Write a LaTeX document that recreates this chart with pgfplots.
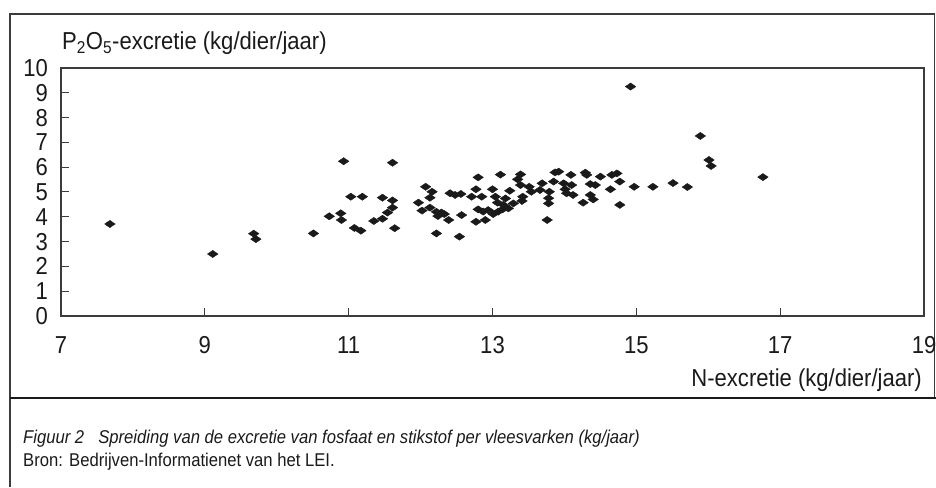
\documentclass[border=0pt]{standalone}
\usepackage{fontspec}
\setmainfont{Liberation Sans}[FakeStretch=0.9]
\usepackage{pgfplots}
\pgfplotsset{compat=1.18}
\definecolor{ink}{HTML}{1A1A1A}
\begin{document}
\begin{tikzpicture}[x=1pt,y=1pt]
\useasboundingbox (0,0) rectangle (936,487);
\draw[line width=1.3pt, color=ink!85] (10,0) -- (10,473) -- (934.5,473) -- (934.5,89);
\draw[line width=2.4pt, color=ink] (10,89) -- (936,89);
\begin{axis}[
  at={(61pt,171pt)}, anchor=south west,
  width=863pt, height=248pt, scale only axis,
  xmin=7, xmax=19, ymin=0, ymax=10,
  xtick={7,9,...,19}, ytick={0,1,...,10},
  xtick pos=bottom, ytick pos=left,
  tick align=inside, major tick length=8pt,
  axis line style={line width=1.1pt, color=ink!85},
  tick style={line width=1pt, color=ink!85},
  /pgf/number format/assume math mode=true,
  ticklabel style={font=\fontsize{24.5}{26}\selectfont, text=ink},
  yticklabel style={anchor=east, inner sep=0pt, xshift=-13pt},
  xticklabel style={anchor=north, inner sep=0pt, yshift=-20pt},
  clip=false,
]
\addplot[only marks, mark=diamond*, mark size=3.6pt, color=ink,
  mark options={xscale=1.95, fill=ink, draw=ink}] table {
x y
7.68 3.71
9.11 2.50
9.68 3.32
9.71 3.10
10.51 3.33
14.92 9.25
15.89 7.26
16.01 6.29
16.04 6.05
16.76 5.60
15.51 5.36
15.71 5.20
15.23 5.21
14.97 5.21
10.93 6.24
11.61 6.18
11.03 4.81
11.19 4.81
11.47 4.77
11.61 4.66
11.61 4.37
11.54 4.17
11.47 3.92
11.35 3.83
10.73 4.02
10.89 4.14
10.90 3.87
11.08 3.55
11.17 3.44
11.64 3.54
12.07 5.21
12.16 5.01
12.13 4.77
11.97 4.57
12.13 4.37
12.02 4.25
12.22 4.20
12.29 4.17
12.24 4.03
12.33 4.11
12.39 3.87
12.22 3.33
12.54 3.20
12.57 4.07
12.41 4.95
12.48 4.88
12.56 4.92
12.80 5.59
13.11 5.70
13.39 5.71
13.35 5.51
13.87 5.79
12.77 5.11
12.71 4.81
12.85 4.81
13.00 5.11
13.04 4.81
13.07 4.57
13.18 4.74
13.24 5.05
13.15 4.48
13.29 4.54
13.39 5.28
13.42 4.81
13.41 4.64
13.51 5.21
13.54 5.01
13.69 5.35
13.66 5.08
13.79 5.01
13.78 4.75
13.78 4.54
13.76 3.87
13.85 5.42
12.80 4.30
12.87 4.21
12.94 4.27
13.01 4.11
13.08 4.21
13.14 4.30
13.22 4.34
12.77 3.80
12.90 3.87
13.92 5.82
14.09 5.69
14.29 5.78
14.31 5.69
14.50 5.62
14.66 5.69
14.73 5.75
14.77 5.42
13.99 5.35
14.10 5.28
14.36 5.32
14.43 5.28
14.64 5.11
14.01 5.11
14.03 4.95
14.12 4.88
14.36 4.88
14.40 4.70
14.26 4.57
14.77 4.48
};
\end{axis}
\node[anchor=base west, inner sep=0pt, font=\fontsize{24.5}{26}\selectfont, text=ink] at (62,437) {P\textsubscript{2}O\textsubscript{5}-excretie (kg/dier/jaar)};
\node[anchor=base east, inner sep=0pt, font=\fontsize{24.5}{26}\selectfont, text=ink] at (922,100) {N-excretie (kg/dier/jaar)};
\node[anchor=base west, inner sep=0pt, font=\fontsize{18.5}{20}\selectfont\itshape, text=ink] at (23,43.4) {Figuur 2\hspace{14pt}Spreiding van de excretie van fosfaat en stikstof per vleesvarken (kg/jaar)};
\node[anchor=base west, inner sep=0pt, font=\fontsize{18.5}{20}\selectfont, text=ink] at (23,20.4) {Bron: Bedrijven-Informatienet van het LEI.};
\end{tikzpicture}
\end{document}
